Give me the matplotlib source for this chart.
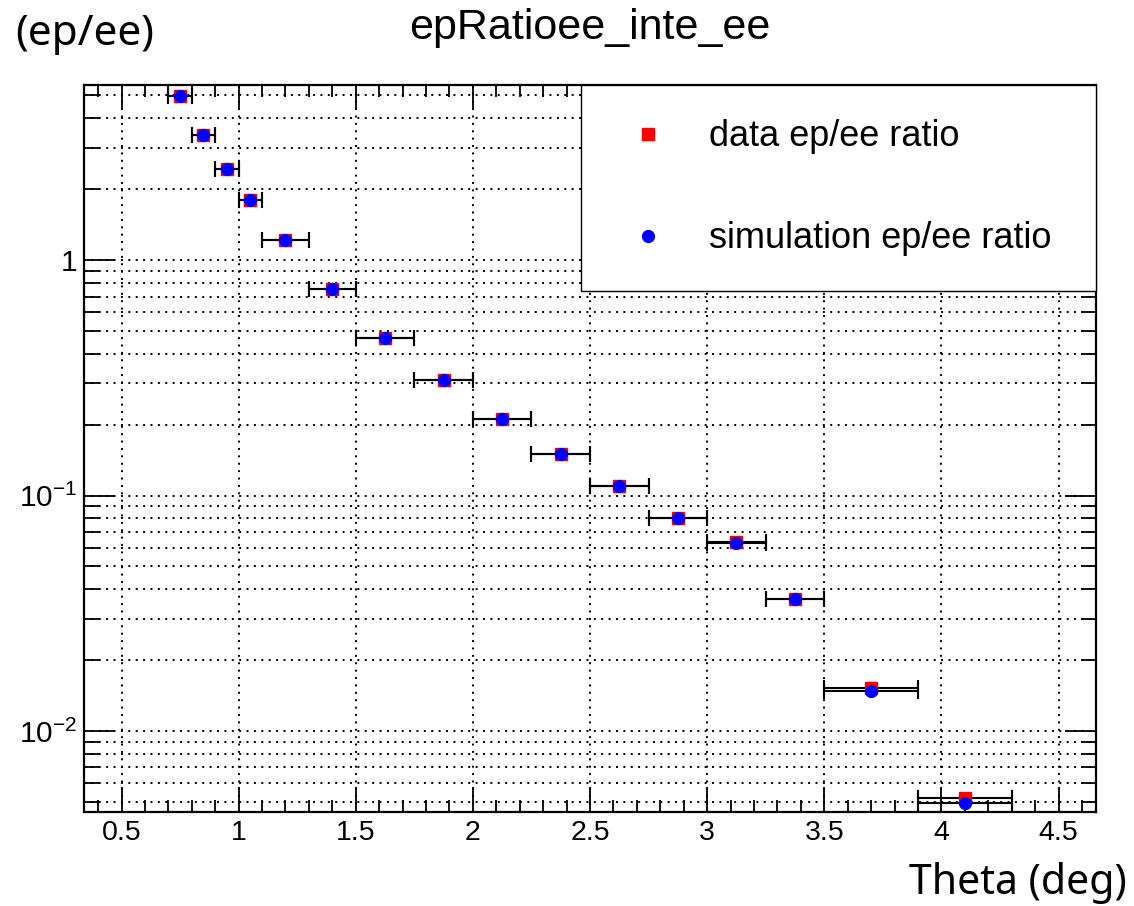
import matplotlib
matplotlib.use('Agg')
import math
import matplotlib.pyplot as plt
from matplotlib.lines import Line2D
from matplotlib.ticker import LogLocator, NullFormatter, FuncFormatter, MultipleLocator

plt.rcParams['font.family'] = ['Liberation Sans', 'DejaVu Sans']
plt.rcParams['mathtext.fontset'] = 'custom'
plt.rcParams['mathtext.rm'] = 'Liberation Sans'
plt.rcParams['mathtext.it'] = 'Liberation Sans:italic'

# bin centres and half widths (deg)
theta = [0.75, 0.85, 0.95, 1.05, 1.2, 1.4, 1.625, 1.875, 2.125, 2.375,
         2.625, 2.875, 3.125, 3.375, 3.7, 4.1]
theta_err = [0.05, 0.05, 0.05, 0.05, 0.1, 0.1, 0.125, 0.125, 0.125, 0.125,
             0.125, 0.125, 0.125, 0.125, 0.2, 0.2]

data_ratio = [4.99, 3.40, 2.43, 1.80, 1.216, 0.751, 0.466, 0.309, 0.212, 0.150,
              0.1097, 0.0800, 0.0637, 0.0362, 0.01527, 0.00518]
sim_ratio = [4.99, 3.40, 2.43, 1.80, 1.216, 0.751, 0.466, 0.309, 0.211, 0.150,
             0.1097, 0.0800, 0.0627, 0.0362, 0.01483, 0.00493]

fig = plt.figure(figsize=(11.34, 9.06), dpi=100)
ax = fig.add_axes([0.0741, 0.104, 0.8924, 0.802])

ax.set_yscale('log')

# error bars (x only)
ax.errorbar(theta, data_ratio, xerr=theta_err, fmt='none', ecolor='black',
            elinewidth=1.5, capsize=5.5, capthick=1.5, zorder=2)
ax.errorbar(theta, sim_ratio, xerr=theta_err, fmt='none', ecolor='black',
            elinewidth=1.5, capsize=5.5, capthick=1.5, zorder=2)
ax.plot(theta, data_ratio, ls='none', marker='s', ms=9, color='#ff0000',
        mec='#ff0000', zorder=3, label='data ep/ee ratio')
ax.plot(theta, sim_ratio, ls='none', marker='o', ms=8.5, color='#0000ff',
        mec='#0000ff', zorder=4, label='simulation ep/ee ratio')

ax.set_xlim(0.34, 4.66)
ax.set_ylim(0.00454, 5.53)

ax.xaxis.set_major_locator(MultipleLocator(0.5))
ax.xaxis.set_minor_locator(MultipleLocator(0.1))
ax.yaxis.set_major_locator(LogLocator(base=10))
ax.yaxis.set_minor_locator(LogLocator(base=10, subs=range(2, 10)))
ax.yaxis.set_minor_formatter(NullFormatter())


def ylab(v, pos):
    if abs(v - 1) < 1e-9:
        return '1'
    return r'$10^{%d}$' % round(math.log10(v))


ax.yaxis.set_major_formatter(FuncFormatter(ylab))
ax.xaxis.set_major_formatter(FuncFormatter(lambda v, p: ('%g' % v)))

ax.tick_params(which='both', direction='in', top=True, right=True,
               width=1.3, colors='black')
ax.tick_params(axis='x', which='major', length=18, labelsize=20.5, pad=6)
ax.tick_params(axis='x', which='minor', length=8.5)
ax.tick_params(axis='y', which='major', length=22, labelsize=21.5, pad=5)
ax.tick_params(axis='y', which='minor', length=11)

for s in ax.spines.values():
    s.set_linewidth(1.6)

ax.grid(True, which='major', axis='x', color='black', lw=1.4, ls=(0, (1, 2.8)))
ax.grid(True, which='both', axis='y', color='black', lw=1.4, ls=(0, (1, 2.8)))
ax.set_axisbelow(True)

handles = [Line2D([], [], ls='none', marker='s', ms=9, color='#ff0000'),
           Line2D([], [], ls='none', marker='o', ms=8.5, color='#0000ff')]
leg = ax.legend(handles, ['data ep/ee ratio', 'simulation ep/ee ratio'],
                loc='upper right', bbox_to_anchor=(0.491, 0.0, 0.509, 1.0),
                mode='expand', borderaxespad=0, fontsize=26, fancybox=False,
                edgecolor='black', framealpha=1, labelspacing=1.85,
                borderpad=0.95, handlelength=1.8, handletextpad=0.8)
leg.get_frame().set_linewidth(1.0)
leg.set_zorder(10)

fig.text(0.5203, 1 - 28 / 906, 'epRatioee_inte_ee', ha='center', va='center',
         fontsize=31)
fig.text(15 / 1134, 1 - 34 / 906, '(ep/ee)', ha='left', va='center',
         fontsize=30.5, family='Noto Sans')
fig.text(1127 / 1134, 1 - 883 / 906, 'Theta (deg)', ha='right', va='center',
         fontsize=29.5, family='Noto Sans')

fig.savefig('out.png', dpi=100)
